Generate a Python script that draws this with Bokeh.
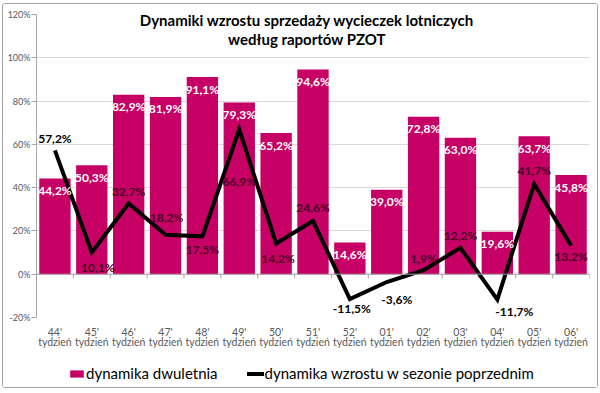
from bokeh.plotting import figure
from bokeh.layouts import column
from bokeh.models import (ColumnDataSource, FixedTicker, Span, Legend, LegendItem,
                          BoxAnnotation, Label, LinearAxis)
from bokeh.core.properties import value
from bokeh.embed import file_html
from bokeh.resources import INLINE

# ---- data ----
weeks = ["44'", "45'", "46'", "47'", "48'", "49'", "50'", "51'", "52'",
         "01'", "02'", "03'", "04'", "05'", "06'"]
week_word = "tydzień"
dwuletnia = [44.2, 50.3, 82.9, 81.9, 91.1, 79.3, 65.2, 94.6, 14.6,
             39.0, 72.8, 63.0, 19.6, 63.7, 45.8]
sezon = [57.2, 10.1, 32.7, 18.2, 17.5, 66.9, 14.2, 24.6, -11.5,
         -3.6, 1.9, 12.2, -11.7, 41.7, 13.2]
y_ticks = [-20, 0, 20, 40, 60, 80, 100, 120]
title_lines = ["Dynamiki wzrostu sprzedaży wycieczek lotniczych",
               "według raportów PZOT"]
series_names = ["dynamika dwuletnia", "dynamika wzrostu w sezonie poprzednim"]

# label placement (styles, screen px)
line_lbl_dx = [0, 6, 0, 1, 0, 0, 2, 0, 2, 10, 0, 0, 17, 0, 0]
line_lbl_dy = [-12, 15, -12, -17, 13, 52, 15, -13, 9, 17, -12, -12, 12, -13, 11]
line_lbl_col = ["#000000", "#4a0026", "#4a0026", "#4a0026", "#4a0026", "#4a0026",
                "#4a0026", "#4a0026", "#000000", "#000000", "#4a0026", "#4a0026",
                "#000000", "#4a0026", "#4a0026"]

BAR = "#C60064"
GRID = "#d9d9d9"
AXIS = "#a6a6a6"
TXT = "#595959"
FONT = "Lato"
W = 594

def pct(v):
    return f"{v:.1f}%".replace(".", ",")

n = len(weeks)
idx = list(range(n))

src = ColumnDataSource(dict(
    x=idx, bar=dwuletnia, line=sezon,
    bar_lbl=[pct(v) for v in dwuletnia],
    line_lbl=[pct(v) for v in sezon],
    dx=line_lbl_dx, dy=line_lbl_dy, lcol=line_lbl_col,
))

p = figure(width=W, height=351, output_backend="svg", toolbar_location=None,
           x_range=(-0.5, n - 0.5), y_range=(y_ticks[0], y_ticks[-1]),
           x_axis_location=None,
           min_border_left=33, min_border_right=8, min_border_top=10,
           min_border_bottom=38)
p.outline_line_color = None
p.background_fill_color = "white"
p.border_fill_color = "white"

# grid
p.xgrid.visible = False
p.ygrid.grid_line_color = GRID
p.ygrid.ticker = FixedTicker(ticks=y_ticks)

# y axis
p.yaxis.ticker = FixedTicker(ticks=y_ticks)
p.yaxis.major_label_overrides = {t: f"{t}%" for t in y_ticks}
p.yaxis.axis_line_color = AXIS
p.yaxis.major_tick_line_color = AXIS
p.yaxis.major_tick_out = 5
p.yaxis.major_tick_in = 0
p.yaxis.minor_tick_line_color = None
p.yaxis.minor_tick_out = 0
p.yaxis.minor_tick_in = 0
p.yaxis.major_label_standoff = 1
p.yaxis.major_label_text_font = FONT
p.yaxis.major_label_text_font_size = "9px"
p.yaxis.major_label_text_color = TXT

# x axes: week number, then the word "tydzień"
def cat_axis(labels, standoff):
    ax = LinearAxis(ticker=FixedTicker(ticks=idx),
                    major_label_overrides={i: s for i, s in enumerate(labels)},
                    axis_line_color=None, major_tick_line_color=None,
                    minor_tick_line_color=None, major_tick_out=0, major_tick_in=0,
                    minor_tick_out=0, minor_tick_in=0,
                    major_label_standoff=standoff,
                    major_label_text_font=FONT, major_label_text_font_size="10.5px",
                    major_label_text_color=TXT)
    p.add_layout(ax, "below")

cat_axis(weeks, 8)
cat_axis([week_word] * n, -5)

# title box hiding gridlines
p.add_layout(BoxAnnotation(left=0.15, right=13.5, bottom=102, top=125,
                           fill_color="white", fill_alpha=1, line_color=None,
                           level="underlay"))

# bars
bars = p.vbar(x="x", top="bar", width=0.85, source=src, fill_color=BAR,
              line_color=None)

# zero axis with category ticks
p.add_layout(Span(location=0, dimension="width", line_color=AXIS, line_width=1))
bounds = [i - 0.5 for i in range(n + 1)]
p.segment(x0=bounds, x1=bounds, y0=[0] * len(bounds), y1=[-1.9] * len(bounds),
          line_color=AXIS, line_width=1)

# line
ln = p.line(x="x", y="line", source=src, line_color="black", line_width=4,
            line_join="miter")

# bar labels
p.text(x="x", y="bar", text="bar_lbl", source=src, text_align="center",
       text_baseline="middle", y_offset=12, text_color="white",
       text_font=value(FONT), text_font_style="bold", text_font_size="12px")
# line labels
p.text(x="x", y="line", text="line_lbl", source=src, text_align="center",
       text_baseline="middle", x_offset="dx", y_offset="dy", text_color="lcol",
       text_font=value(FONT), text_font_style="bold", text_font_size="12px")

# title
for t, yy in zip(title_lines, [117.4, 108.6]):
    p.add_layout(Label(x=(n - 1) / 2, y=yy, text=t, text_align="center",
                       text_baseline="middle", x_offset=-6,
                       text_font=FONT, text_font_style="bold",
                       text_font_size="15px", text_color="black"))

# legend strip (proxy glyphs sit outside its visible range)
lg = figure(width=W, height=32, output_backend="svg", toolbar_location=None,
            x_range=(0, 1), y_range=(0, 1), min_border=0,
            x_axis_location=None, y_axis_location=None)
lg.outline_line_color = None
lg.grid.visible = False
lb = lg.vbar(x=[-5], top=[-5], width=0.5, fill_color=BAR, line_color=None)
ll = lg.line(x=[-6, -5], y=[-5, -5], line_color="black", line_width=4,
             line_cap="round")
legend = Legend(items=[LegendItem(label=series_names[0], renderers=[lb]),
                       LegendItem(label=series_names[1], renderers=[ll])],
                orientation="horizontal", location=(32, 5),
                glyph_width=17, glyph_height=9, label_standoff=1, spacing=29,
                padding=0, margin=0, border_line_color=None,
                background_fill_alpha=0, label_text_font=FONT,
                label_text_font_style="normal",
                label_text_font_size="15px", label_text_color="black",
                label_height=18)
lg.add_layout(legend, "center")

page = column(p, lg, spacing=0)
page.styles = {"position": "absolute", "left": "2px", "top": "3px",
               "border": "1px solid #a6a6a6", "border-radius": "3px"}

open("out.html", "w").write(file_html(page, INLINE))
